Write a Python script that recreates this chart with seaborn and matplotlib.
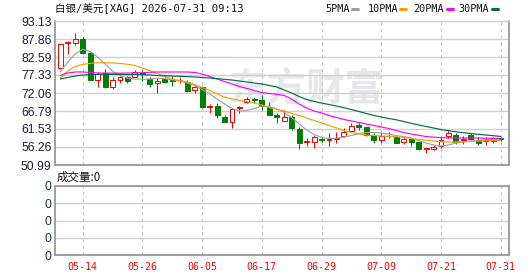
import numpy as np
import pandas as pd
import seaborn as sns
import matplotlib.pyplot as plt
from matplotlib.lines import Line2D

# ---------------- datos ----------------
dates = pd.bdate_range('2026-05-11', '2026-07-31').strftime('%m-%d').tolist()

opens = [79.46, 86.80, 86.78, 87.86, 83.68, 75.86, 78.00, 73.90, 75.86, 76.83,
         76.83, 78.00, 76.16, 74.90, 76.16, 75.86, 75.77, 75.37, 72.94, 73.73,
         67.96, 68.26, 65.12, 63.49, 67.67, 69.34, 70.22, 70.01, 68.10, 65.62,
         63.95, 65.12, 61.44, 57.72, 57.81, 58.51, 58.31, 58.60, 59.48, 61.03,
         62.78, 62.02, 59.77, 58.31, 59.57, 59.10, 57.81, 58.51, 57.63, 55.76,
         55.67, 56.55, 59.39, 59.86, 58.31, 59.77, 58.45, 58.10, 58.01, 58.89]
highs = [86.50, 87.37, 89.71, 88.54, 84.15, 78.29, 79.08, 76.65, 77.04, 77.04,
         78.79, 78.79, 76.83, 76.36, 76.83, 77.04, 76.83, 75.86, 74.10, 74.10,
         68.75, 69.05, 65.62, 67.58, 68.26, 70.98, 70.98, 71.47, 69.40, 66.12,
         67.09, 65.62, 62.20, 58.80, 59.77, 59.27, 60.27, 60.74, 61.73, 63.19,
         63.19, 62.20, 60.44, 60.74, 60.56, 59.27, 59.27, 58.80, 57.81, 55.88,
         56.84, 59.48, 61.23, 60.44, 59.39, 60.44, 59.18, 59.27, 59.27, 59.33]
lows = [79.20, 83.38, 86.02, 83.38, 75.80, 73.90, 73.44, 73.23, 74.90, 75.07,
        76.65, 75.66, 73.73, 71.97, 74.90, 74.10, 74.90, 72.44, 71.97, 67.58,
        66.30, 64.66, 63.49, 61.73, 66.12, 69.22, 69.05, 67.09, 65.48, 63.37,
        63.87, 61.23, 55.58, 56.64, 55.88, 57.63, 56.64, 57.34, 59.27, 61.03,
        61.23, 59.48, 57.34, 57.34, 58.80, 57.34, 57.05, 56.64, 55.38, 54.59,
        55.38, 55.88, 58.80, 57.14, 57.05, 58.31, 56.84, 56.84, 57.34, 58.01]
closes = [86.31, 86.95, 87.77, 83.68, 75.86, 77.62, 73.73, 75.86, 76.65, 75.66,
          78.29, 77.62, 74.69, 75.66, 75.37, 75.57, 75.86, 72.73, 73.73, 67.88,
          68.26, 65.62, 63.49, 67.38, 67.96, 70.22, 69.92, 68.26, 65.62, 64.95,
          64.95, 61.73, 57.34, 57.92, 59.10, 58.22, 58.60, 58.80, 60.74, 62.40,
          62.20, 59.77, 58.31, 59.57, 59.39, 57.52, 58.51, 57.63, 55.58, 55.88,
          56.26, 58.31, 60.27, 57.81, 58.60, 58.69, 57.57, 58.45, 58.80, 58.60]

ma5 = [78.21, 81.13, 83.47, 84.85, 84.20, 82.59, 80.55, 78.50, 77.18, 76.36,
       76.16, 76.07, 76.16, 76.36, 76.25, 75.92, 75.57, 74.98, 74.26, 73.08,
       71.77, 70.30, 68.84, 67.52, 66.79, 66.94, 67.52, 68.26, 68.11, 67.38,
       66.35, 64.89, 62.99, 61.23, 59.92, 59.04, 58.75, 58.80, 59.18, 59.62,
       60.21, 60.50, 60.50, 60.35, 60.06, 59.62, 59.33, 58.89, 58.16, 57.43,
       56.84, 56.55, 56.84, 57.43, 57.72, 58.01, 58.22, 58.37, 58.51, 58.69]
ma10 = [76.36, 78.50, 79.82, 80.40, 80.75, 80.90, 80.93, 80.84, 80.69, 80.46,
        80.11, 79.38, 78.64, 77.77, 76.89, 76.16, 75.72, 75.28, 74.55, 73.67,
        72.79, 71.77, 70.89, 70.30, 69.92, 69.57, 69.13, 68.55, 67.82, 67.23,
        66.79, 66.06, 65.48, 64.74, 64.01, 63.28, 62.55, 61.82, 61.09, 60.50,
        60.06, 59.77, 59.62, 59.48, 59.39, 59.27, 59.04, 58.75, 58.51, 58.22,
        58.01, 57.81, 57.72, 57.72, 57.81, 57.92, 58.01, 58.07, 58.16, 58.22]
ma20 = [77.18, 77.91, 78.21, 78.21, 78.06, 77.91, 77.91, 77.86, 77.86, 77.91,
        77.91, 78.00, 78.12, 78.21, 78.21, 78.21, 78.21, 78.21, 78.06, 77.62,
        76.89, 76.16, 75.43, 74.69, 73.96, 73.38, 72.79, 72.21, 71.91, 71.68,
        71.33, 70.30, 68.84, 67.67, 66.79, 66.21, 65.48, 64.89, 64.31, 63.87,
        63.43, 62.99, 62.55, 62.11, 61.67, 61.09, 60.50, 60.06, 59.68, 59.33,
        59.13, 58.98, 58.89, 58.89, 58.89, 58.89, 58.89, 58.83, 58.80, 58.80]
ma30 = [76.16, 76.60, 77.04, 77.33, 77.40, 77.50, 77.50, 77.50, 77.50, 77.45,
        77.45, 77.40, 77.33, 77.18, 77.10, 77.04, 76.95, 76.86, 76.74, 76.60,
        76.45, 76.25, 76.07, 75.86, 75.57, 75.28, 74.98, 74.69, 74.26, 73.82,
        72.94, 72.06, 71.03, 70.16, 69.57, 69.13, 68.69, 68.26, 67.76, 67.23,
        66.65, 66.06, 65.48, 65.04, 64.60, 64.22, 63.72, 63.19, 62.70, 62.25,
        61.82, 61.38, 61.03, 60.71, 60.44, 60.21, 59.97, 59.77, 59.57, 59.33]

volume = [0] * len(dates)

price_ticks = [50.99, 56.26, 61.53, 66.79, 72.06, 77.33, 82.59, 87.86, 93.13]
vol_ticks = [0, 1, 2, 3, 4]
vol_tick_labels = ['0', '0', '0', '0', '0']
date_ticks = ['05-14', '05-26', '06-05', '06-17', '06-29', '07-09', '07-21', '07-31']

title = '白银/美元[XAG] 2026-07-31 09:13'
ma_names = ['5PMA', '10PMA', '20PMA', '30PMA']
ma_colors = ['#a0a0a0', '#f5a000', '#ff00ff', '#00703a']

# ---------------- figura ----------------
sns.set_style('white')
plt.rcParams['font.family'] = ['Liberation Sans', 'Noto Sans CJK SC', 'DejaVu Sans']

W, H = 530, 276
fig = plt.figure(figsize=(W / 100, H / 100), dpi=100)
ax = fig.add_axes([55 / W, 1 - 165 / H, 454 / W, 144 / H])
ax2 = fig.add_axes([55 / W, 1 - 255 / H, 454 / W, 69 / H])

x = np.arange(len(dates))
xlim = (-0.71, 60.11)
tick_pos = [dates.index(d) for d in date_ticks]
px = 0.72  # 1 pixel en puntos

# velas
for i in x:
    o, h, l, c = opens[i], highs[i], lows[i], closes[i]
    up = c >= o
    col = '#ff0000' if up else '#008000'
    ax.vlines(i, l, h, color=col, lw=px, zorder=2)
    ax.bar(i, max(abs(c - o), 0.04), bottom=min(o, c), width=0.66,
           facecolor='white' if up else col, edgecolor=col, lw=px, zorder=2.5)

# medias moviles
df_ma = pd.DataFrame({'x': x, '5PMA': ma5, '10PMA': ma10, '20PMA': ma20, '30PMA': ma30})
for name, col in zip(ma_names, ma_colors):
    sns.lineplot(data=df_ma, x='x', y=name, ax=ax, color=col, lw=0.85, zorder=3)

# marca de agua
ax.text(0.553, 0.52, '东方财富', transform=ax.transAxes, ha='center', va='center',
        fontsize=28, fontweight='bold', color='#e6e6ec', family='Noto Sans CJK SC', zorder=0.5)

ax.set_xlim(*xlim)
ax.set_ylim(price_ticks[0], price_ticks[-1])
ax.set_yticks(price_ticks)
ax.set_yticklabels([f'{v:.2f}' for v in price_ticks])
ax.set_xticks(tick_pos)
ax.set_xticklabels([])
ax.set_xlabel('')
ax.set_ylabel('')

# volumen
ax2.bar(x, volume, width=0.66, color='#008000')
ax2.set_xlim(*xlim)
ax2.set_ylim(vol_ticks[0], vol_ticks[-1])
ax2.set_yticks(vol_ticks)
ax2.set_yticklabels(vol_tick_labels)
ax2.set_xticks(tick_pos)
ax2.set_xticklabels(date_ticks, color='#ff0000', family='DejaVu Sans Mono', fontsize=7.2)

for a in (ax, ax2):
    a.set_axisbelow(True)
    a.grid(axis='y', color='#d0d0d0', lw=1.0, ls='-')
    a.grid(axis='x', color='#c8c8c8', lw=0.8, ls=(0, (3, 3)))
    a.tick_params(length=0, pad=2.5)
    for s in a.spines.values():
        s.set_color('#999999')
        s.set_linewidth(1.3)
ax.spines['top'].set_color('#d0d0d0')
ax.spines['top'].set_linewidth(1.0)
ax.tick_params(axis='y', labelsize=8.8, labelcolor='#1c1c3c')
ax2.tick_params(axis='y', labelsize=8.8, labelcolor='#203060')
ax2.tick_params(axis='x', pad=5)

# titulo y leyenda
fig.text(55 / W, 1 - 8.5 / H, title, fontsize=7.6, va='center', ha='left',
         family=['DejaVu Sans Mono', 'Noto Sans CJK SC'], color='#111111')
leg_text_x = [325.7, 367.7, 412.7, 458.3]
leg_mark_x = [352.3, 400.0, 446.7, 491.7]
for name, col, tx, mx in zip(ma_names, ma_colors, leg_text_x, leg_mark_x):
    fig.text(tx / W, 1 - 8.7 / H, name, fontsize=7.3, va='center', ha='left',
             family='DejaVu Sans Mono', color='#111111')
    fig.add_artist(Line2D([mx / W, (mx + 6) / W], [1 - 9 / H, 1 - 9 / H], color=col, lw=2.2))

fig.text(57 / W, 1 - 177.7 / H, '成交量:0', fontsize=8.3, va='center', ha='left',
         family=['Noto Sans CJK SC', 'DejaVu Sans'], color='#111111')

plt.savefig('out.png', dpi=100)
